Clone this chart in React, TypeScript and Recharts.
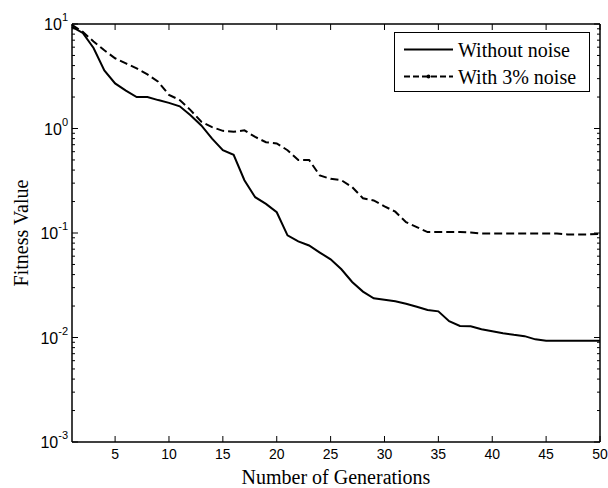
import React from "react";
import { LineChart, Line, XAxis, YAxis, Legend, Label } from "recharts";

// generation index on the x axis
const generations = [
  1, 2, 3, 4, 5, 6, 7, 8, 9, 10, 11, 12, 13, 14, 15, 16, 17, 18, 19, 20, 21,
  22, 23, 24, 25, 26, 27, 28, 29, 30, 31, 32, 33, 34, 35, 36, 37, 38, 39, 40,
  41, 42, 43, 44, 45, 46, 47, 48, 49, 50,
];

// best fitness per generation
const withoutNoise = [
  9.4, 8.2, 5.9, 3.6, 2.7, 2.3, 2.0, 2.0, 1.87, 1.76, 1.63, 1.34, 1.07, 0.8,
  0.62, 0.56, 0.32, 0.22, 0.19, 0.158, 0.095, 0.083, 0.076, 0.065, 0.056,
  0.045, 0.034, 0.0275, 0.0237, 0.023, 0.0222, 0.021, 0.0197, 0.0183, 0.0178,
  0.0143, 0.0129, 0.0128, 0.012, 0.0115, 0.011, 0.0106, 0.0103, 0.0096,
  0.0093, 0.0093, 0.0093, 0.0093, 0.0093, 0.0093,
];

const withNoise = [
  9.8, 8.4, 6.8, 5.6, 4.7, 4.2, 3.76, 3.3, 2.8, 2.1, 1.87, 1.5, 1.16, 1.03,
  0.95, 0.93, 0.96, 0.83, 0.74, 0.72, 0.62, 0.5, 0.5, 0.355, 0.33, 0.32,
  0.275, 0.215, 0.205, 0.18, 0.16, 0.127, 0.114, 0.102, 0.102, 0.102, 0.102,
  0.101, 0.099, 0.099, 0.099, 0.099, 0.099, 0.099, 0.099, 0.099, 0.097, 0.097,
  0.097, 0.098,
];

const xTicks = [5, 10, 15, 20, 25, 30, 35, 40, 45, 50];

const yDecades = [0.001, 0.01, 0.1, 1, 10];
const yExponents = ["-3", "-2", "-1", "0", "1"];
const yMinor = [
  0.002, 0.003, 0.004, 0.005, 0.006, 0.007, 0.008, 0.009,
  0.02, 0.03, 0.04, 0.05, 0.06, 0.07, 0.08, 0.09,
  0.2, 0.3, 0.4, 0.5, 0.6, 0.7, 0.8, 0.9,
  2, 3, 4, 5, 6, 7, 8, 9,
];
const yTicks = [...yDecades, ...yMinor].sort((a, b) => a - b);

const data = generations.map((gen, i) => ({
  gen,
  clean: withoutNoise[i],
  noisy: withNoise[i],
}));

const sans = "'Liberation Sans', Arial, sans-serif";
const serif = "'Liberation Serif', 'Times New Roman', serif";

function BottomTick({ x, y, payload }: any) {
  return (
    <g>
      <line x1={x} x2={x} y1={y} y2={y - 6} stroke="#000" />
      <text x={x} y={y + 17} textAnchor="middle" fontFamily={sans} fontSize={14} fill="#000">
        {payload.value}
      </text>
    </g>
  );
}

function TopTick({ x, y }: any) {
  return <line x1={x} x2={x} y1={y} y2={y + 6} stroke="#000" />;
}

function LeftTick({ x, y, payload }: any) {
  const idx = yDecades.indexOf(payload.value);
  const major = idx >= 0;
  return (
    <g>
      <line x1={x} x2={x + (major ? 6 : 3)} y1={y} y2={y} stroke="#000" />
      {major && (
        <text x={x - 4} y={y + 6} textAnchor="end" fontFamily={sans} fontSize={16} fill="#000">
          10
          <tspan dy={-9} fontSize={11}>
            {yExponents[idx]}
          </tspan>
        </text>
      )}
    </g>
  );
}

function RightTick({ x, y, payload }: any) {
  const major = yDecades.indexOf(payload.value) >= 0;
  return <line x1={x} x2={x - (major ? 6 : 3)} y1={y} y2={y} stroke="#000" />;
}

function LegendBox() {
  return (
    <svg width={196} height={60} style={{ display: "block" }}>
      <rect x={0.5} y={0.5} width={195} height={59} fill="#fff" stroke="#000" />
      <line x1={10} x2={59} y1={17.5} y2={17.5} stroke="#000" strokeWidth={2} />
      <text x={64} y={24.5} fontFamily={serif} fontSize={20} fill="#000">
        Without noise
      </text>
      <line x1={10} x2={59} y1={44.5} y2={44.5} stroke="#000" strokeWidth={2} strokeDasharray="6 3" />
      <circle cx={34.5} cy={44.5} r={2} fill="#000" />
      <text x={64} y={51.5} fontFamily={serif} fontSize={20} fill="#000">
        With 3% noise
      </text>
    </svg>
  );
}

export default function App() {
  return (
    <div style={{ position: "absolute", left: 0, top: 0, background: "#fff" }}>
      <LineChart width={608} height={488} data={data} margin={{ top: 0, right: 0, bottom: 0, left: 0 }}>
        <XAxis
          dataKey="gen"
          type="number"
          domain={[1, 50]}
          ticks={xTicks}
          interval={0}
          height={46}
          tickSize={0}
          tickMargin={0}
          tick={<BottomTick />}
          axisLine={{ stroke: "#000", strokeWidth: 1.5 }}
        >
          <Label
            value="Number of Generations"
            position="insideBottom"
            offset={4}
            style={{ fontFamily: serif, fontSize: 20, fill: "#000" }}
          />
        </XAxis>
        <XAxis
          xAxisId="top"
          orientation="top"
          dataKey="gen"
          type="number"
          domain={[1, 50]}
          ticks={xTicks}
          interval={0}
          height={24}
          tickSize={0}
          tickMargin={0}
          tick={<TopTick />}
          axisLine={{ stroke: "#000", strokeWidth: 1.5 }}
        />
        <YAxis
          type="number"
          scale="log"
          domain={[0.001, 10]}
          ticks={yTicks}
          interval={0}
          width={72}
          tickSize={0}
          tickMargin={0}
          tick={<LeftTick />}
          axisLine={{ stroke: "#000", strokeWidth: 1.5 }}
          allowDataOverflow
        >
          <Label
            content={({ viewBox }: any) => {
              const cy = viewBox.y + viewBox.height / 2;
              return (
                <text
                  x={28}
                  y={cy}
                  transform={`rotate(-90, 28, ${cy})`}
                  textAnchor="middle"
                  fontFamily={serif}
                  fontSize={20}
                  fill="#000"
                >
                  Fitness Value
                </text>
              );
            }}
          />
        </YAxis>
        <YAxis
          yAxisId="right"
          orientation="right"
          type="number"
          scale="log"
          domain={[0.001, 10]}
          ticks={yTicks}
          interval={0}
          width={8}
          tickSize={0}
          tickMargin={0}
          tick={<RightTick />}
          axisLine={{ stroke: "#000", strokeWidth: 1.5 }}
          allowDataOverflow
        />
        <Legend
          layout="horizontal"
          align="center"
          verticalAlign="middle"
          content={() => <LegendBox />}
          wrapperStyle={{ left: 394, top: 32, width: 196, height: 60 }}
        />
        <Line
          dataKey="clean"
          name="Without noise"
          type="linear"
          stroke="#000"
          strokeWidth={2}
          dot={false}
          isAnimationActive={false}
        />
        <Line
          dataKey="noisy"
          name="With 3% noise"
          type="linear"
          stroke="#000"
          strokeWidth={2}
          strokeDasharray="8 4"
          dot={false}
          isAnimationActive={false}
        />
      </LineChart>
    </div>
  );
}
